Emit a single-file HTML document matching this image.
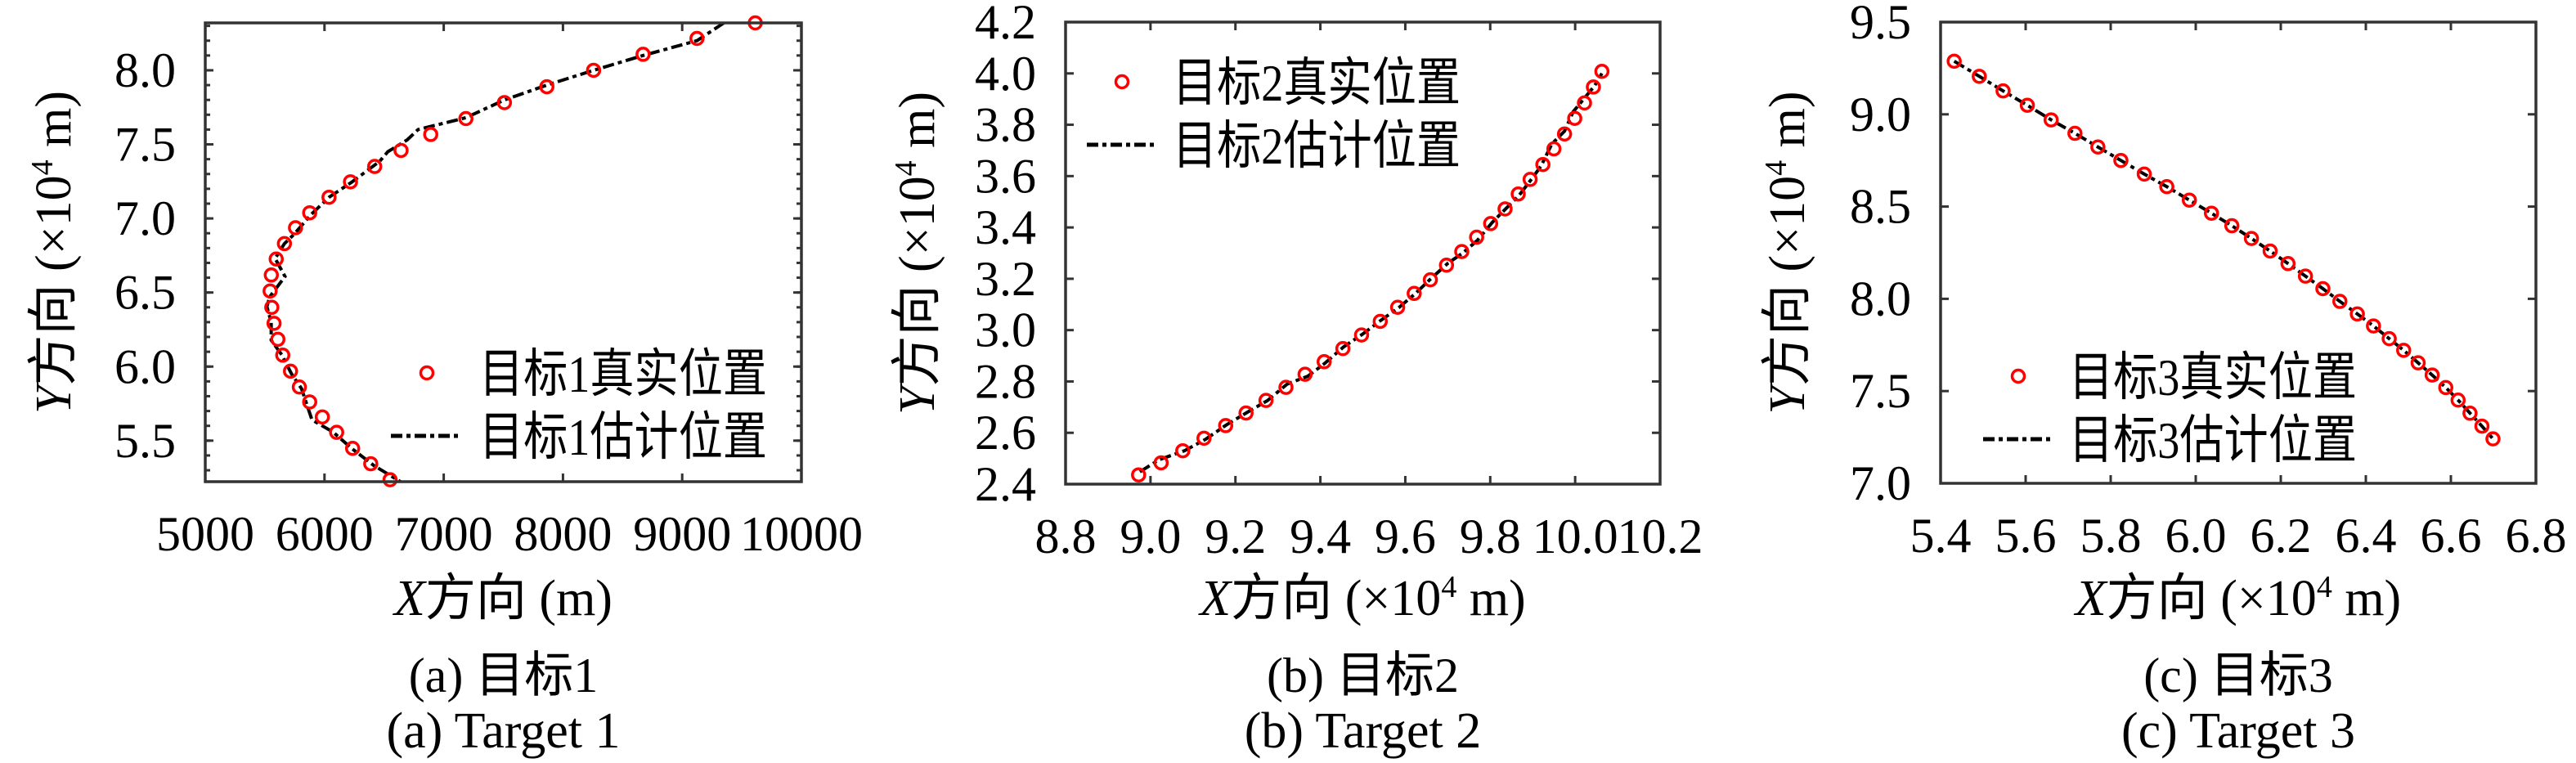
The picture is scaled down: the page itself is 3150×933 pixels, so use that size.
<!DOCTYPE html>
<html><head><meta charset="utf-8"><style>
html,body{margin:0;padding:0;background:#fff;}
svg{display:block;}
text{font-family:"Liberation Serif","Noto Serif CJK SC","Noto Sans CJK SC",serif;fill:#000;}
.cjk{font-family:"Liberation Serif","Noto Sans CJK SC",sans-serif;}
</style></head><body>
<svg id="chart" width="3150" height="933" viewBox="0 0 3150 933" xmlns="http://www.w3.org/2000/svg"></svg>
<script>
// ---- Panel (a) Target 1 data (m, ×10^4 m) ----
const t1TrueX=[9613,9124,8672,8257,7865,7509,7186,6891,6642,6421,6218,6038,5876,5757,5664,5595,5554,5544,5558,5577,5609,5650,5715,5789,5876,5982,6102,6236,6388,6550];
const t1TrueY=[8.32,8.215,8.108,8.0,7.889,7.782,7.674,7.567,7.459,7.351,7.247,7.143,7.038,6.937,6.83,6.726,6.618,6.51,6.4,6.292,6.184,6.077,5.969,5.862,5.761,5.66,5.556,5.448,5.344,5.236];
const t1EstX=[9350,9124,8672,8257,7865,7509,7186,6785,6693,6531,6462,6232,6038,5886,5747,5664,5586,5669,5540,5517,5553,5553,5641,5724,5807,5895,6070,6232,6416,6637];
const t1EstY=[8.32,8.2,8.1,8.0,7.9,7.8,7.68,7.6,7.53,7.45,7.385,7.247,7.143,7.025,6.895,6.83,6.73,6.608,6.47,6.405,6.3,6.178,6.08,5.95,5.852,5.64,5.559,5.445,5.331,5.223];
// ---- Panel (b) Target 2 ----
const t2TrueX=[8.972,9.025,9.076,9.126,9.177,9.225,9.272,9.319,9.364,9.409,9.453,9.497,9.541,9.582,9.621,9.659,9.697,9.733,9.768,9.801,9.835,9.866,9.894,9.924,9.95,9.975,9.999,10.022,10.043,10.063];
const t2TrueY=[2.436,2.483,2.53,2.579,2.628,2.677,2.726,2.777,2.828,2.877,2.928,2.981,3.034,3.089,3.143,3.196,3.253,3.306,3.362,3.415,3.472,3.53,3.587,3.645,3.706,3.764,3.825,3.885,3.947,4.008];
const t2EstX=[8.975,9.02,9.08,9.13,9.178,9.228,9.275,9.322,9.37,9.41,9.455,9.5,9.54,9.585,9.622,9.66,9.7,9.735,9.77,9.805,9.838,9.868,9.898,9.92,9.945,9.975,9.995,10.02,10.045,10.063];
const t2EstY=[2.448,2.495,2.53,2.575,2.63,2.68,2.725,2.79,2.82,2.87,2.935,2.985,3.035,3.088,3.14,3.2,3.26,3.3,3.35,3.42,3.475,3.525,3.59,3.64,3.725,3.775,3.85,3.9,3.95,4.0];
// ---- Panel (c) Target 3 ----
const t3TrueX=[5.432,5.491,5.547,5.604,5.66,5.716,5.77,5.824,5.879,5.932,5.985,6.037,6.085,6.131,6.175,6.217,6.258,6.299,6.339,6.38,6.418,6.455,6.489,6.523,6.556,6.588,6.617,6.645,6.673,6.699];
const t3TrueY=[9.288,9.206,9.127,9.049,8.97,8.897,8.823,8.75,8.676,8.608,8.535,8.464,8.396,8.327,8.259,8.191,8.123,8.055,7.986,7.918,7.853,7.784,7.721,7.653,7.587,7.519,7.451,7.38,7.31,7.241];
const t3EstX=t3TrueX.slice();
const t3EstY=t3TrueY.slice();
// ---- Tick labels ----
const t1XTicks=[5000,6000,7000,8000,9000,10000];
const t1YTicks=["5.5","6.0","6.5","7.0","7.5","8.0"];
const t2XTicks=["8.8","9.0","9.2","9.4","9.6","9.8","10.0","10.2"];
const t2YTicks=["2.4","2.6","2.8","3.0","3.2","3.4","3.6","3.8","4.0","4.2"];
const t3XTicks=["5.4","5.6","5.8","6.0","6.2","6.4","6.6","6.8"];
const t3YTicks=["7.0","7.5","8.0","8.5","9.0","9.5"];

const NS="http://www.w3.org/2000/svg";
const svg=document.getElementById('chart');
function mk(tag,attrs,parent){const e=document.createElementNS(NS,tag);for(const k in attrs)e.setAttribute(k,attrs[k]);(parent||svg).appendChild(e);return e;}

function panel(cfg){
  const g=mk('g',{});
  
  
  const {x0,x1,y0,y1,xmin,xmax,ymin,ymax}=cfg;
  const sx=v=>x0+(v-xmin)/(xmax-xmin)*(x1-x0);
  const sy=v=>y1-(v-ymin)/(ymax-ymin)*(y1-y0);
  const tk=mk('g',{stroke:'#333','stroke-width':3},g);
  
  
  cfg.xt.forEach(t=>{const v=+t;const X=sx(v);
    mk('line',{x1:X,x2:X,y1:y1,y2:y1-10},tk);mk('line',{x1:X,x2:X,y1:y0,y2:y0+10},tk);
    const lb=mk('text',{x:X,y:y1+84,'font-size':60,'text-anchor':'middle'},g);lb.textContent=t;
    
    
  });
  cfg.yt.forEach(t=>{const v=+t;const Y=sy(v);
    mk('line',{x1:x0,x2:x0+10,y1:Y,y2:Y},tk);mk('line',{x1:x1,x2:x1-10,y1:Y,y2:Y},tk);
    const lb=mk('text',{x:x0-36,y:Y+20,'font-size':60,'text-anchor':'end'},g);lb.textContent=t;
    
    
  });
  if(cfg.minorY){for(let v=Math.ceil(ymin/cfg.minorY)*cfg.minorY;v<=ymax;v+=cfg.minorY){const Y=sy(v);
    mk('line',{x1:x0,x2:x0+6,y1:Y,y2:Y},tk);mk('line',{x1:x1,x2:x1-6,y1:Y,y2:Y},tk);}}
  const pts=cfg.ex.map((v,i)=>sx(v)+','+sy(cfg.ey[i])).join(' ');
  const pl=mk('polyline',{points:pts,fill:'none',stroke:'#000','stroke-width':4,'stroke-dasharray':'14 5 5 5'},g);
  
  
  cfg.tx.forEach((v,i)=>{const c=mk('circle',{cx:sx(v),cy:sy(cfg.ty[i]),r:7.5,fill:'none',stroke:'#f00','stroke-width':3.5},g);
    
    });
  const fr=mk('rect',{x:x0,y:y0,width:x1-x0,height:y1-y0,fill:'none',stroke:'#333','stroke-width':3.5},g);
  
  
  const lg=mk('g',{},g);
  
  
  const L=cfg.leg;
  mk('circle',{cx:L.mx,cy:L.y1,r:7.5,fill:'none',stroke:'#f00','stroke-width':3.5},lg);
  mk('line',{x1:L.lx0,x2:L.lx1,y1:L.y2,y2:L.y2,stroke:'#000','stroke-width':5,'stroke-dasharray':'14 5 5 5'},lg);
  const a=mk('text',{x:L.tx,y:L.y1+23,'font-size':64,class:'cjk',textLength:L.tl,lengthAdjust:'spacingAndGlyphs'},lg);a.textContent='目标'+cfg.n+'真实位置';
  
  
  const b=mk('text',{x:L.tx,y:L.y2+23,'font-size':64,class:'cjk',textLength:L.tl,lengthAdjust:'spacingAndGlyphs'},lg);b.textContent='目标'+cfg.n+'估计位置';
  
  
  const cx=(x0+x1)/2;
  const xl=mk('text',{x:cx,y:752,'font-size':62,'text-anchor':'middle'},g);
  xl.innerHTML='<tspan font-style="italic">X</tspan><tspan class="cjk">方向</tspan> '+cfg.xunit;
  
  
  const yl=mk('text',{x:0,y:0,'font-size':62,'text-anchor':'middle',transform:`translate(${cfg.ylx},${(y0+y1)/2}) rotate(-90)`},g);
  yl.innerHTML='<tspan font-style="italic">Y</tspan><tspan class="cjk">方向</tspan> (×10<tspan dy="-22" font-size="38">4</tspan><tspan dy="22"> m)</tspan>';
  
  
  const c1=mk('text',{x:cx,y:846,'font-size':60,'text-anchor':'middle'},g);
  c1.innerHTML='('+cfg.l+') <tspan class="cjk">目标</tspan>'+cfg.n;
  
  
  const c2=mk('text',{x:cx,y:914,'font-size':62,'text-anchor':'middle'},g);
  c2.textContent='('+cfg.l+') Target '+cfg.n;
  
  
}

const xu='(×10<tspan dy="-22" font-size="38">4</tspan><tspan dy="22"> m)</tspan>';
panel({name:'panel-target-1',n:1,l:'a',x0:251,x1:980,y0:28,y1:589,xmin:5000,xmax:10000,ymin:5.223,ymax:8.32,
  xt:t1XTicks,yt:t1YTicks,minorY:0.1,tx:t1TrueX,ty:t1TrueY,ex:t1EstX,ey:t1EstY,xunit:'(m)',ylx:86,
  leg:{mx:522,lx0:478,lx1:565,tx:586,y1:456,y2:533,tl:352}});
panel({name:'panel-target-2',n:2,l:'b',x0:1303,x1:2030,y0:27,y1:592,xmin:8.8,xmax:10.2,ymin:2.4,ymax:4.2,
  xt:t2XTicks,yt:t2YTicks,tx:t2TrueX,ty:t2TrueY,ex:t2EstX,ey:t2EstY,xunit:xu,ylx:1142,
  leg:{mx:1372,lx0:1329,lx1:1413,tx:1434,y1:100,y2:177,tl:352}});
panel({name:'panel-target-3',n:3,l:'c',x0:2373,x1:3101,y0:27,y1:591,xmin:5.4,xmax:6.8,ymin:7.0,ymax:9.5,
  xt:t3XTicks,yt:t3YTicks,tx:t3TrueX,ty:t3TrueY,ex:t3EstX,ey:t3EstY,xunit:xu,ylx:2206,
  leg:{mx:2468,lx0:2425,lx1:2510,tx:2530,y1:460,y2:537,tl:352}});
</script>
</body></html>
